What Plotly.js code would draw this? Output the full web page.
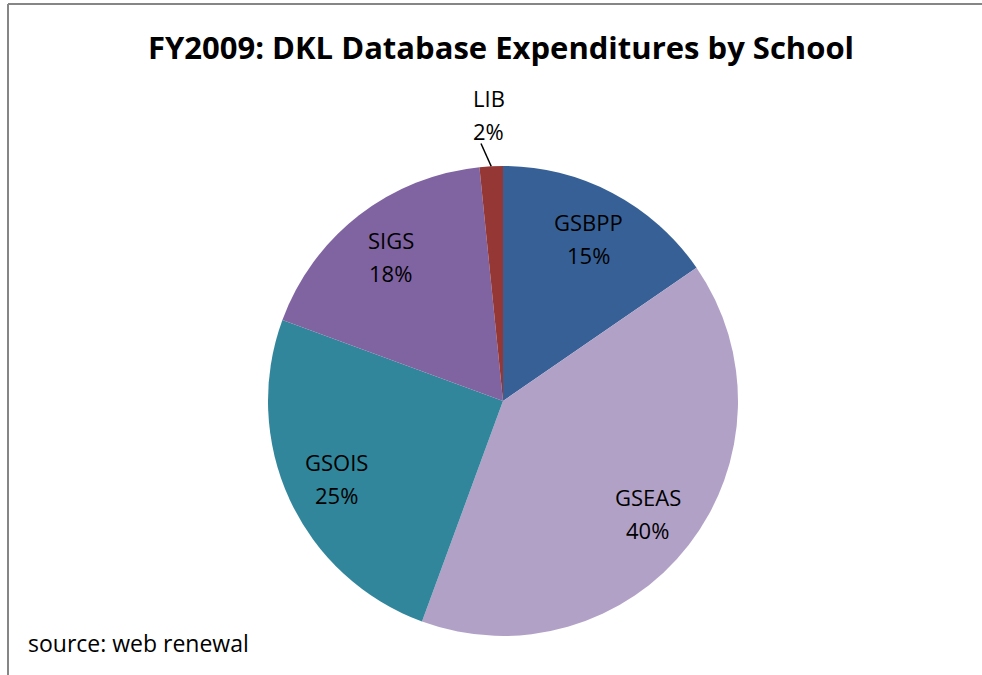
<!DOCTYPE html>
<html>
<head>
<meta charset="utf-8">
<script src="https://cdn.plot.ly/plotly-3.0.1.min.js"></script>
<style>html,body{margin:0;padding:0;background:#fff;}#chart{width:982px;height:675px;}</style>
</head>
<body>
<div id="chart"></div>
<script>
const schools = ["GSBPP", "GSEAS", "GSOIS", "SIGS", "LIB"];
const shares = [15.4, 40.2, 25.0, 17.8, 1.6];
const colors = ["#376196", "#B2A1C7", "#31869B", "#8064A2", "#953735"];
const titleText = "FY2009: DKL Database Expenditures by School";
const sourceText = "source: web renewal";

const W = 982, H = 675;
const cx = 503, cy = 401, R = 235;
const FONT = "Open Sans, Noto Sans, sans-serif";
const LS = 33;

const total = shares.reduce((a, b) => a + b, 0);
const annotations = [];
const shapes = [];
let cum = 0;
shares.forEach((v, i) => {
  const mid = (cum + v / 2) / total * 2 * Math.PI;
  cum += v;
  const pct = Math.round(v / total * 100) + "%";
  const outside = v / total < 0.05;
  const k = outside ? 1.22 : 0.78;
  const px = cx + k * R * Math.sin(mid);
  const py = cy - k * R * Math.cos(mid);
  [schools[i], pct].forEach((t, j) => {
    annotations.push({
      x: px / W, y: 1 - (py + (j - 0.5) * LS) / H, xref: "paper", yref: "paper",
      text: t, showarrow: false,
      font: {family: FONT, size: 22, color: "#000"},
      xanchor: "center", yanchor: "middle", align: "center"
    });
  });
  if (outside) {
    const a2 = mid - 0.035;
    shapes.push({
      type: "line", xref: "paper", yref: "paper",
      x0: (cx + 1.0 * R * Math.sin(mid)) / W, y0: 1 - (cy - 1.0 * R * Math.cos(mid)) / H,
      x1: (cx + 1.1 * R * Math.sin(a2)) / W, y1: 1 - (cy - 1.1 * R * Math.cos(a2)) / H,
      line: {color: "#000", width: 1.5}
    });
  }
});

annotations.push({
  x: 26 / W, y: 1 - 643 / H, xref: "paper", yref: "paper",
  text: sourceText, showarrow: false, xanchor: "left", yanchor: "middle",
  font: {family: FONT, size: 23, color: "#000"}
});

shapes.push({type: "line", xref: "paper", yref: "paper", x0: 8 / W, x1: 1, y0: 1 - 4 / H, y1: 1 - 4 / H, line: {color: "#868686", width: 2}});
shapes.push({type: "line", xref: "paper", yref: "paper", x0: 8 / W, x1: 8 / W, y0: 1 - 4 / H, y1: 0, line: {color: "#868686", width: 2}});

const data = [{
  type: "pie",
  labels: schools,
  values: shares,
  marker: {colors: colors, line: {width: 0}},
  sort: false,
  direction: "clockwise",
  rotation: 0,
  textinfo: "none",
  hoverinfo: "label+percent",
  showlegend: false,
  domain: {x: [(cx - R) / W, (cx + R) / W], y: [1 - (cy + R) / H, 1 - (cy - R) / H]}
}];

const layout = {
  width: W, height: H,
  margin: {l: 0, r: 0, t: 0, b: 0},
  paper_bgcolor: "#fff",
  title: {
    text: "<b>" + titleText + "</b>",
    x: 501 / W, xanchor: "center", xref: "paper",
    y: 1 - 48 / H, yanchor: "middle", yref: "paper",
    font: {family: FONT, size: 31, color: "#000"}
  },
  annotations: annotations,
  shapes: shapes,
  showlegend: false
};

Plotly.newPlot("chart", data, layout, {displayModeBar: false, staticPlot: true});
</script>
</body>
</html>
